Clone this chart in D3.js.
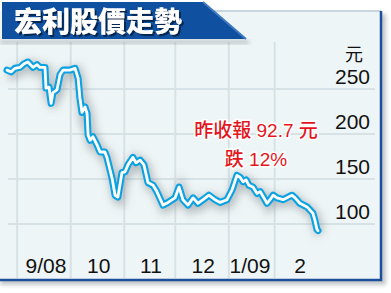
<!DOCTYPE html>
<html>
<head>
<meta charset="utf-8">
<script src="https://cdn.jsdelivr.net/npm/d3@7"></script>
<style>
  html, body { margin: 0; padding: 0; background: #ffffff; }
  svg { display: block; }
</style>
</head>
<body>
<div id="chart"></div>
<script>
// trading-day index and close price (HK$)
let days = [0, 1.6, 3.1, 5.1, 6.7, 8.2, 10.2, 11.8, 12.9, 14.9, 15.3, 16.5, 17.3, 18, 19.6, 20.8, 22, 24.7,
            26.7, 27.9, 28.6, 29.4, 30.6, 31.4, 31.8, 32.6, 33.7, 35.3, 36.5, 38.4, 39.2, 41.2, 42.4, 43.5,
            45.1, 46.3, 47.5, 49.4, 50.6, 52.2, 53.7, 55.3, 57.3, 58.8, 61.2, 63.2, 65.9, 67.5, 69, 71, 73,
            74.9, 76.9, 79.2, 81.6, 83.6, 86.3, 88.3, 90.2, 91.4, 92.6, 93.8, 94.9, 96.5, 98.1, 99.3, 100.8,
            102, 103.2, 104.4, 105.9, 108.3, 111.8, 113, 114.9, 117.7, 120, 120.8, 121.6, 122];
let prices = [271, 269, 273, 274, 278, 280, 274, 277, 274, 274, 251, 252, 234, 246, 249, 266, 271, 271,
              273, 262, 240, 224, 230, 223, 199, 193, 197, 188, 180, 180, 174, 151, 132, 130,
              157, 158, 166, 174, 168, 171, 166, 146, 143, 136, 121, 124, 129, 141, 127, 121, 129,
              123, 127, 132, 127, 124, 127, 138, 154, 152, 147, 149, 143, 141, 134, 136, 129,
              123, 127, 132, 129, 127, 132, 129, 123, 119, 112, 104, 94, 92.7];

let monthStarts = [4, 25, 46, 66, 87, 105];
let monthLabelDays = [15.3, 36, 56.5, 77, 95.3, 115];
let monthLabels = ["9/08", "10", "11", "12", "1/09", "2"];
let yTicks = [100, 150, 200, 250];

let width = 391;
let height = 293;

let svg = d3.select("#chart")
            .append("svg")
            .attr("width", width)
            .attr("height", height);

let xScale = d3.scaleLinear().domain([0, 122]).range([7, 318]);
let yScale = d3.scaleLinear().domain([50, 300]).range([269, 44]);

let defs = svg.append("defs");
defs.append("filter").attr("id", "blur4")
    .attr("x", "-20%").attr("y", "-20%").attr("width", "140%").attr("height", "140%")
    .append("feGaussianBlur").attr("stdDeviation", 4);
defs.append("filter").attr("id", "blur2")
    .attr("x", "-20%").attr("y", "-20%").attr("width", "140%").attr("height", "140%")
    .append("feGaussianBlur").attr("stdDeviation", 2);
defs.append("filter").attr("id", "titleShadow")
    .attr("x", "-10%").attr("y", "-20%").attr("width", "120%").attr("height", "150%")
    .append("feDropShadow")
    .attr("dx", 2).attr("dy", 2).attr("stdDeviation", 0.6)
    .attr("flood-color", "#06224a").attr("flood-opacity", 0.9);

// panel + shadow
svg.append("rect")
   .attr("x", 0).attr("y", 14).attr("width", 386).attr("height", 271)
   .attr("fill", "#9aa3a8").attr("opacity", 0.6)
   .attr("filter", "url(#blur2)");
svg.append("rect")
   .attr("x", -2).attr("y", 11).attr("width", 383).attr("height", 269)
   .attr("fill", "#eef5f6");
svg.append("line")
   .attr("x1", 200).attr("x2", 381).attr("y1", 11).attr("y2", 11)
   .attr("stroke", "#b9c9d6").attr("stroke-width", 1.5);
svg.append("path")
   .attr("d", "M381,11 V280 H-2")
   .attr("fill", "none").attr("stroke", "#1d4f9c").attr("stroke-width", 2.5);

// grid
svg.append("g")
   .selectAll("line")
   .data(monthStarts)
   .enter()
   .append("line")
   .attr("x1", d => xScale(d)).attr("x2", d => xScale(d))
   .attr("y1", 42).attr("y2", 278)
   .attr("stroke", "#d6e2e6").attr("stroke-width", 2);

svg.append("g")
   .selectAll("line")
   .data(yTicks)
   .enter()
   .append("line")
   .attr("x1", 8).attr("x2", 375)
   .attr("y1", d => yScale(d)).attr("y2", d => yScale(d))
   .attr("stroke", "#d6e2e6").attr("stroke-width", 2);

// title banner
svg.append("path")
   .attr("d", "M0,40 H248 L250,44 H0 Z")
   .attr("fill", "#8d969c").attr("opacity", 0.5)
   .attr("filter", "url(#blur2)");
svg.append("path")
   .attr("d", "M2,2 H203 L246,39 H2 Z")
   .attr("fill", "#1050a0");
svg.append("path")
   .attr("d", "M203,2 L246,39")
   .attr("stroke", "#3f79c0").attr("stroke-width", 2);

svg.append("text")
   .attr("x", 14).attr("y", 32)
   .attr("font-family", "'Noto Sans CJK TC', sans-serif")
   .attr("font-weight", 900)
   .attr("font-size", 28)
   .attr("fill", "#ffffff")
   .attr("filter", "url(#titleShadow)")
   .text("宏利股價走勢");

// line
let line = d3.line()
             .x((d, i) => xScale(days[i]))
             .y(d => yScale(d));

svg.append("path")
   .datum(prices)
   .attr("d", line)
   .attr("transform", "translate(2,3)")
   .attr("fill", "none")
   .attr("stroke", "#7d868c").attr("stroke-opacity", 0.5)
   .attr("stroke-width", 10)
   .attr("filter", "url(#blur4)");
svg.append("path")
   .datum(prices)
   .attr("d", line)
   .attr("fill", "none")
   .attr("stroke", "#0aa2e2")
   .attr("stroke-width", 7)
   .attr("stroke-linejoin", "round")
   .attr("stroke-linecap", "round");
svg.append("path")
   .datum(prices)
   .attr("d", line)
   .attr("fill", "none")
   .attr("stroke", "#ffffff")
   .attr("stroke-width", 2.8)
   .attr("stroke-linejoin", "round")
   .attr("stroke-linecap", "round");

// y labels
svg.append("g")
   .selectAll("text")
   .data(yTicks)
   .enter()
   .append("text")
   .attr("x", 370)
   .attr("y", d => yScale(d) - 5)
   .attr("text-anchor", "end")
   .attr("font-family", "'Liberation Sans', Arial, sans-serif")
   .attr("font-size", 21)
   .attr("fill", "#111111")
   .text(d => d);

svg.append("text")
   .attr("x", 354).attr("y", 61)
   .attr("text-anchor", "middle")
   .attr("font-family", "'Noto Sans CJK TC', sans-serif")
   .attr("font-size", 18)
   .attr("fill", "#111111")
   .text("元");

// x labels
svg.append("g")
   .selectAll("text")
   .data(monthLabels)
   .enter()
   .append("text")
   .attr("x", (d, i) => xScale(monthLabelDays[i]))
   .attr("y", 273)
   .attr("text-anchor", "middle")
   .attr("font-family", "'Liberation Sans', Arial, sans-serif")
   .attr("font-size", 21)
   .attr("fill", "#111111")
   .text(d => d);

// annotation
let notes = [["昨收報 92.7 元", 137], ["跌 12%", 166]];
svg.append("g")
   .selectAll("text")
   .data(notes)
   .enter()
   .append("text")
   .attr("x", 256)
   .attr("y", d => d[1])
   .attr("text-anchor", "middle")
   .attr("font-family", "'Liberation Sans', 'Noto Sans CJK TC', sans-serif")
   .attr("font-size", 19)
   .attr("font-weight", 500)
   .attr("fill", "#e3161d")
   .attr("stroke", "#ffffff")
   .attr("stroke-width", 3)
   .attr("paint-order", "stroke")
   .text(d => d[0]);
</script>
</body>
</html>
